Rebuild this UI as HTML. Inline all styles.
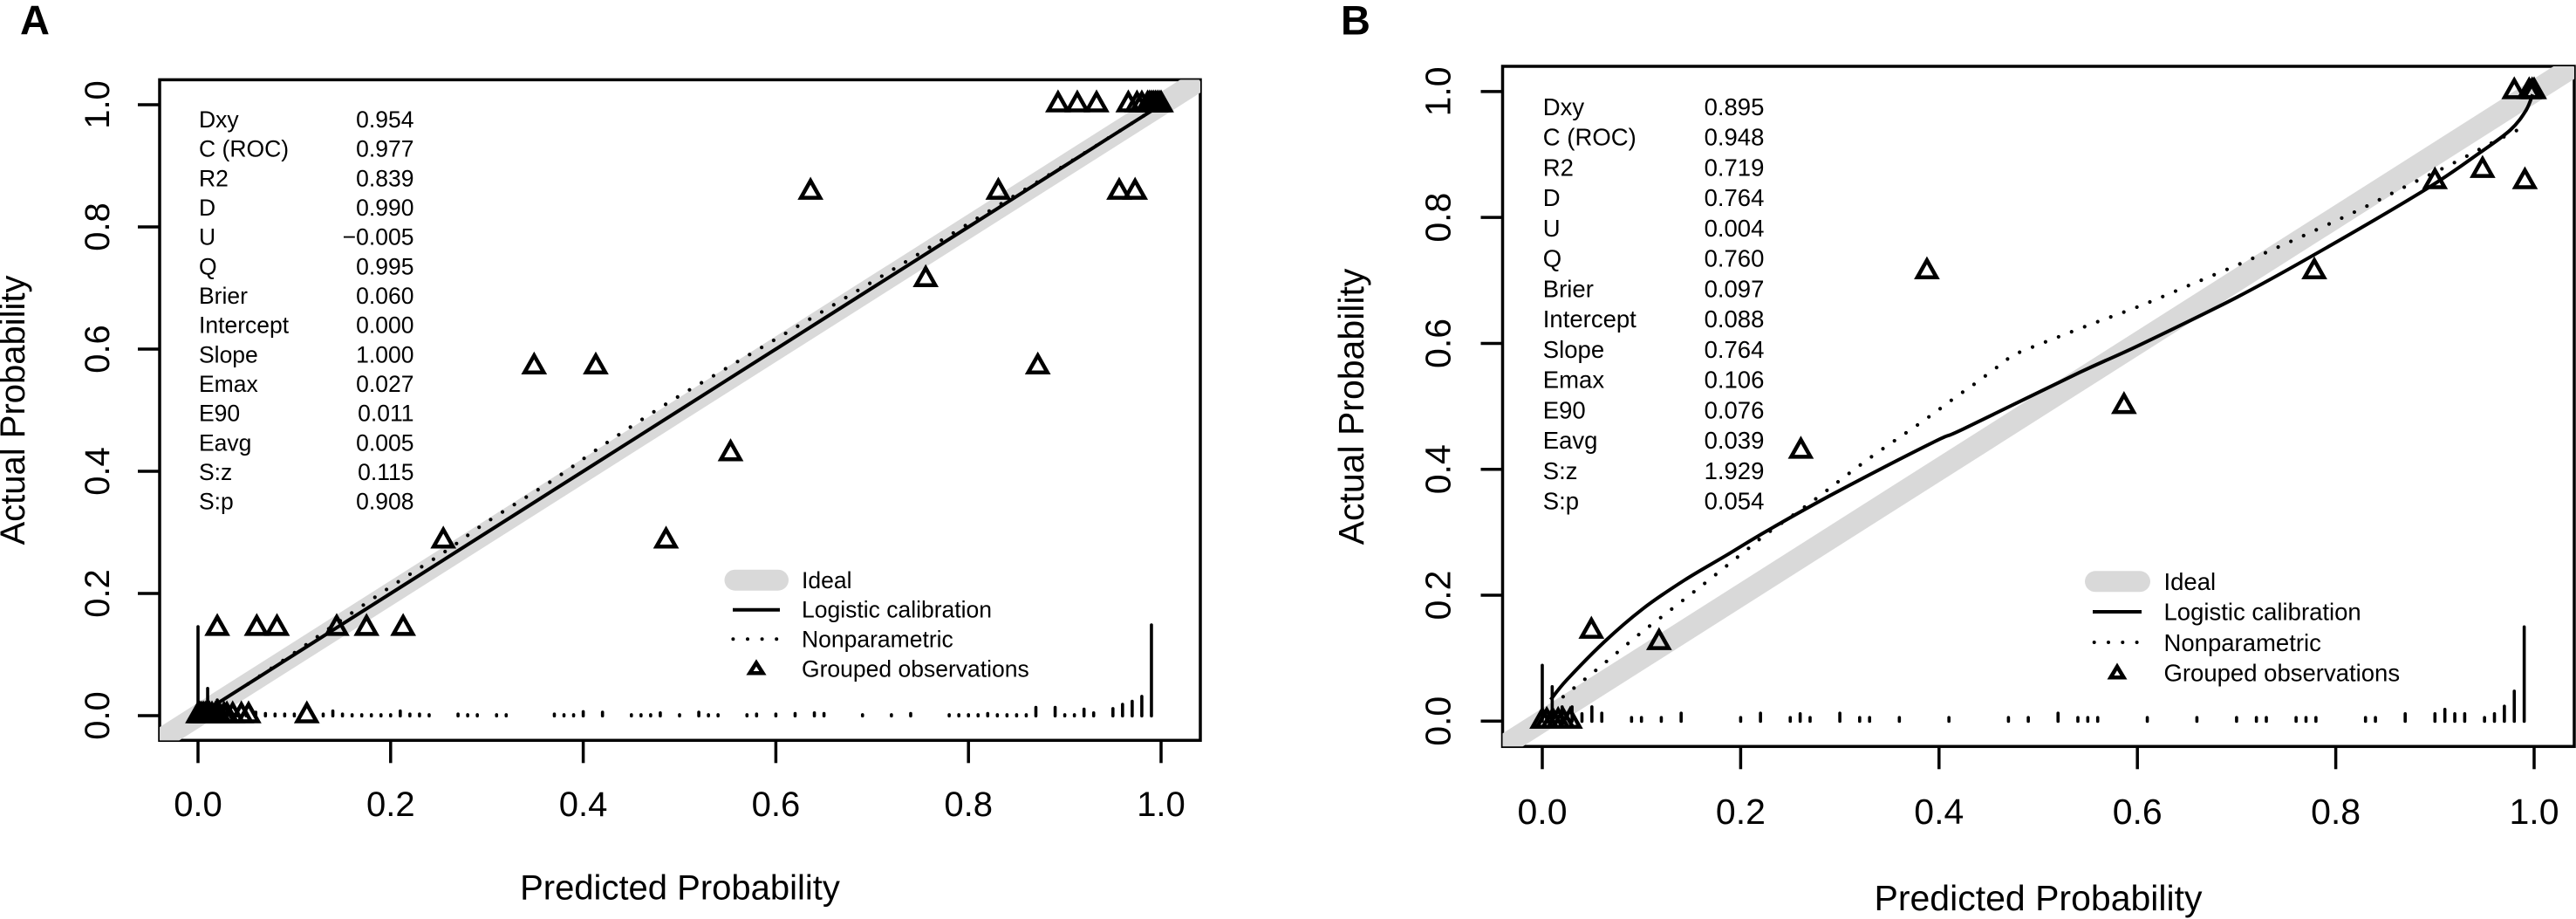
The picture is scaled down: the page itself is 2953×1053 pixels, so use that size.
<!DOCTYPE html>
<html lang="en">
<head>
<meta charset="utf-8">
<title>Calibration plots</title>
<style>
html,body{margin:0;padding:0;background:#fff;width:2953px;height:1053px;overflow:hidden}
svg{display:block;position:absolute;left:0;top:0}
text{font-family:"Liberation Sans",Arial,sans-serif;fill:#000}
.s-a{font-size:26.5px}
.s-b{font-size:27.5px}
.end{text-anchor:end}
.title-a{font-size:40px}
.title-b{font-size:41px}
.letter{font-size:47px;font-weight:bold}
</style>
</head>
<body>
<svg id="figure" xmlns="http://www.w3.org/2000/svg" width="2953" height="1053" viewBox="0 0 2953 1053">
<defs>
<clipPath id="clip-a"><rect x="183" y="91.4" width="1193" height="757"/></clipPath>
<clipPath id="clip-b"><rect x="1722.5" y="76" width="1228.5" height="779.3"/></clipPath>
</defs>
<rect width="2953" height="1053" fill="#fff"/>

<text class="letter" x="23" y="39.6">A</text>
<text class="letter" x="1537" y="39.6">B</text>

<g id="panel-a"></g>
<g id="panel-b"></g>

<text class="title-a" x="779.5" y="1030.5" text-anchor="middle">Predicted Probability</text>
<text class="title-a" transform="translate(28 470) rotate(-90)" text-anchor="middle">Actual Probability</text>
<text class="title-b" x="2336.5" y="1043" text-anchor="middle">Predicted Probability</text>
<text class="title-b" transform="translate(1563 466) rotate(-90)" text-anchor="middle">Actual Probability</text>

<g>
<text class="s-a" x="228" y="146">Dxy</text><text class="s-a end" x="474.5" y="146">0.954</text>
<text class="s-a" x="228" y="179.7">C (ROC)</text><text class="s-a end" x="474.5" y="179.7">0.977</text>
<text class="s-a" x="228" y="213.3">R2</text><text class="s-a end" x="474.5" y="213.3">0.839</text>
<text class="s-a" x="228" y="247">D</text><text class="s-a end" x="474.5" y="247">0.990</text>
<text class="s-a" x="228" y="280.7">U</text><text class="s-a end" x="474.5" y="280.7">−0.005</text>
<text class="s-a" x="228" y="314.3">Q</text><text class="s-a end" x="474.5" y="314.3">0.995</text>
<text class="s-a" x="228" y="348">Brier</text><text class="s-a end" x="474.5" y="348">0.060</text>
<text class="s-a" x="228" y="381.7">Intercept</text><text class="s-a end" x="474.5" y="381.7">0.000</text>
<text class="s-a" x="228" y="415.3">Slope</text><text class="s-a end" x="474.5" y="415.3">1.000</text>
<text class="s-a" x="228" y="449">Emax</text><text class="s-a end" x="474.5" y="449">0.027</text>
<text class="s-a" x="228" y="482.7">E90</text><text class="s-a end" x="474.5" y="482.7">0.011</text>
<text class="s-a" x="228" y="516.3">Eavg</text><text class="s-a end" x="474.5" y="516.3">0.005</text>
<text class="s-a" x="228" y="550">S:z</text><text class="s-a end" x="474.5" y="550">0.115</text>
<text class="s-a" x="228" y="583.7">S:p</text><text class="s-a end" x="474.5" y="583.7">0.908</text>
</g>

<g>
<text class="s-b" x="1768.8" y="131.8">Dxy</text><text class="s-b end" x="2022.4" y="131.8">0.895</text>
<text class="s-b" x="1768.8" y="166.6">C (ROC)</text><text class="s-b end" x="2022.4" y="166.6">0.948</text>
<text class="s-b" x="1768.8" y="201.3">R2</text><text class="s-b end" x="2022.4" y="201.3">0.719</text>
<text class="s-b" x="1768.8" y="236.1">D</text><text class="s-b end" x="2022.4" y="236.1">0.764</text>
<text class="s-b" x="1768.8" y="270.8">U</text><text class="s-b end" x="2022.4" y="270.8">0.004</text>
<text class="s-b" x="1768.8" y="305.6">Q</text><text class="s-b end" x="2022.4" y="305.6">0.760</text>
<text class="s-b" x="1768.8" y="340.4">Brier</text><text class="s-b end" x="2022.4" y="340.4">0.097</text>
<text class="s-b" x="1768.8" y="375.1">Intercept</text><text class="s-b end" x="2022.4" y="375.1">0.088</text>
<text class="s-b" x="1768.8" y="409.9">Slope</text><text class="s-b end" x="2022.4" y="409.9">0.764</text>
<text class="s-b" x="1768.8" y="444.6">Emax</text><text class="s-b end" x="2022.4" y="444.6">0.106</text>
<text class="s-b" x="1768.8" y="479.4">E90</text><text class="s-b end" x="2022.4" y="479.4">0.076</text>
<text class="s-b" x="1768.8" y="514.2">Eavg</text><text class="s-b end" x="2022.4" y="514.2">0.039</text>
<text class="s-b" x="1768.8" y="548.9">S:z</text><text class="s-b end" x="2022.4" y="548.9">1.929</text>
<text class="s-b" x="1768.8" y="583.7">S:p</text><text class="s-b end" x="2022.4" y="583.7">0.054</text>
</g>

<g>
<line x1="842.5" y1="664.7" x2="892" y2="664.7" stroke="#d9d9d9" stroke-width="24" stroke-linecap="round"/>
<text class="s-a" x="919" y="674">Ideal</text>
<line x1="840" y1="698.7" x2="894" y2="698.7" stroke="#000" stroke-width="4"/>
<text class="s-a" x="919" y="707.7">Logistic calibration</text>
<line x1="840.4" y1="732.3" x2="891" y2="732.3" stroke="#000" stroke-width="4" stroke-linecap="round" stroke-dasharray="0 16.6"/>
<text class="s-a" x="919" y="741.7">Nonparametric</text>
<polygon points="867,759.5 859.5,771.3 874.5,771.3" fill="none" stroke="#000" stroke-width="4.5"/>
<text class="s-a" x="919" y="775.3">Grouped observations</text>
</g>

<g>
<line x1="2402" y1="666.3" x2="2453" y2="666.3" stroke="#d9d9d9" stroke-width="24" stroke-linecap="round"/>
<text class="s-b" x="2480.5" y="676">Ideal</text>
<line x1="2399" y1="701" x2="2455" y2="701" stroke="#000" stroke-width="4"/>
<text class="s-b" x="2480.5" y="710.7">Logistic calibration</text>
<line x1="2400.7" y1="736" x2="2451" y2="736" stroke="#000" stroke-width="4" stroke-linecap="round" stroke-dasharray="0 16.3"/>
<text class="s-b" x="2480.5" y="746">Nonparametric</text>
<polygon points="2427,763.8 2419.5,776.3 2434.5,776.3" fill="none" stroke="#000" stroke-width="4.5"/>
<text class="s-b" x="2480.5" y="780.7">Grouped observations</text>
</g>
</svg>

<script>
// Shared axis data
const tickValues = [0, 0.2, 0.4, 0.6, 0.8, 1];
const tickLabels = ['0.0', '0.2', '0.4', '0.6', '0.8', '1.0'];
const idealX = [-0.04, 1.04];
const idealY = [-0.04, 1.04];

// Panel A
const logisticXA = [0.005, 0.1, 0.2, 0.3, 0.4, 0.5, 0.6, 0.7, 0.8, 0.9, 0.99];
const logisticYA = [0.005, 0.1, 0.2, 0.3, 0.4, 0.5, 0.6, 0.7, 0.8, 0.9, 0.99];
const nonparXA = [0.052, 0.103, 0.141, 0.201, 0.256, 0.3, 0.367, 0.42, 0.487, 0.55, 0.62, 0.7, 0.756, 0.832, 0.9, 0.96, 0.985];
const nonparYA = [0.052, 0.106, 0.148, 0.212, 0.268, 0.317, 0.384, 0.442, 0.511, 0.57, 0.635, 0.71, 0.763, 0.836, 0.901, 0.96, 0.985];
const groupXA = [0, 0.002, 0.004, 0.006, 0.008, 0.01, 0.012, 0.0145, 0.018, 0.022, 0.027, 0.03, 0.036, 0.045, 0.0525, 0.113,
  0.02, 0.061, 0.082, 0.144, 0.175, 0.213, 0.2547, 0.486, 0.553, 0.349, 0.413, 0.872, 0.7556, 0.636, 0.831, 0.9565, 0.973,
  0.893, 0.913, 0.933, 0.966, 0.975, 0.98, 0.986, 0.988, 0.99, 0.992, 0.994, 0.996, 0.998, 1];
const groupYA = [0, 0, 0, 0, 0, 0, 0, 0, 0, 0, 0, 0, 0, 0, 0, 0,
  0.143, 0.143, 0.143, 0.143, 0.143, 0.143, 0.286, 0.286, 0.429, 0.571, 0.571, 0.571, 0.714, 0.857, 0.857, 0.857, 0.857,
  1, 1, 1, 1, 1, 1, 1, 1, 1, 1, 1, 1, 1, 1];
const rugXA = [0, 0.01, 0.02, 0.03, 0.04, 0.05, 0.06, 0.07, 0.08, 0.09, 0.1, 0.13, 0.14, 0.15, 0.16, 0.17, 0.18, 0.19, 0.2, 0.21, 0.22, 0.23, 0.24,
  0.27, 0.28, 0.29, 0.31, 0.32, 0.37, 0.38, 0.39, 0.4, 0.42, 0.45, 0.46, 0.47, 0.48, 0.5, 0.52, 0.53, 0.54, 0.57, 0.58, 0.6, 0.62, 0.64, 0.65,
  0.69, 0.72, 0.74, 0.78, 0.79, 0.8, 0.81, 0.82, 0.83, 0.84, 0.85, 0.86, 0.87, 0.89, 0.9, 0.91, 0.92, 0.93, 0.95, 0.96, 0.97, 0.98, 0.99];
const rugFreqA = [0.151, 0.05, 0.031, 0.017, 0.013, 0.011, 0.011, 0.009, 0.008, 0.008, 0.008, 0.008, 0.013, 0.008, 0.007, 0.007, 0.007, 0.007, 0.007, 0.013, 0.008, 0.008, 0.007,
  0.008, 0.007, 0.007, 0.007, 0.007, 0.008, 0.007, 0.007, 0.012, 0.011, 0.007, 0.007, 0.007, 0.01, 0.007, 0.011, 0.007, 0.007, 0.007, 0.008, 0.008, 0.009, 0.01, 0.009,
  0.007, 0.007, 0.009, 0.007, 0.007, 0.007, 0.007, 0.009, 0.007, 0.007, 0.007, 0.007, 0.019, 0.019, 0.007, 0.007, 0.016, 0.01, 0.017, 0.024, 0.029, 0.037, 0.154];

// Panel B
const logisticXB = [0.0084, 0.025, 0.063, 0.101, 0.143, 0.185, 0.227, 0.2945, 0.3955, 0.424, 0.542, 0.6014, 0.7, 0.7785, 0.889, 0.9446, 0.976, 0.9918, 0.9985];
const logisticYB = [0.034, 0.066, 0.1266, 0.178, 0.2236, 0.2628, 0.3026, 0.362, 0.444, 0.4637, 0.554, 0.5967, 0.673, 0.741, 0.843, 0.9021, 0.9389, 0.97, 0.9955];
const nonparXB = [0.021, 0.0537, 0.0967, 0.1186, 0.162, 0.206, 0.227, 0.2734, 0.328, 0.385, 0.4187, 0.4298, 0.4633, 0.475, 0.5, 0.552, 0.6034, 0.6545, 0.706, 0.757, 0.82, 0.8695, 0.919, 0.956, 0.9938];
const nonparYB = [0.0388, 0.0804, 0.1367, 0.1635, 0.2167, 0.272, 0.2984, 0.3504, 0.4155, 0.4778, 0.517, 0.5287, 0.5678, 0.5813, 0.5977, 0.6296, 0.66, 0.6938, 0.728, 0.7636, 0.8094, 0.8485, 0.8866, 0.9174, 0.947];
const groupXB = [0, 0.0045, 0.0105, 0.016, 0.021, 0.028, 0.0495, 0.1177, 0.2607, 0.3878, 0.5865, 0.7784, 0.9, 0.948, 0.9907, 0.98, 0.995, 0.998, 1];
const groupYB = [0, 0, 0, 0, 0, 0, 0.143, 0.125, 0.429, 0.714, 0.5, 0.714, 0.857, 0.875, 0.857, 1, 1, 1, 1];
const rugXB = [0, 0.01, 0.02, 0.03, 0.04, 0.05, 0.06, 0.09, 0.1, 0.12, 0.14, 0.2, 0.22, 0.25, 0.26, 0.27, 0.3, 0.32, 0.33, 0.36, 0.41, 0.47, 0.49, 0.52, 0.54, 0.55, 0.56,
  0.61, 0.66, 0.7, 0.72, 0.73, 0.76, 0.77, 0.78, 0.83, 0.84, 0.87, 0.9, 0.91, 0.92, 0.93, 0.95, 0.96, 0.97, 0.98, 0.99];
const rugFreqB = [0.094, 0.06, 0.028, 0.028, 0.017, 0.028, 0.018, 0.011, 0.011, 0.011, 0.018, 0.011, 0.018, 0.011, 0.017, 0.011, 0.018, 0.011, 0.011, 0.011, 0.011, 0.011, 0.011, 0.018, 0.011, 0.011, 0.011,
  0.011, 0.011, 0.011, 0.011, 0.011, 0.011, 0.011, 0.011, 0.011, 0.011, 0.017, 0.017, 0.024, 0.017, 0.017, 0.011, 0.017, 0.029, 0.053, 0.155];

const svgNS = 'http://www.w3.org/2000/svg';

function make(parent, tag, attrs) {
  const el = document.createElementNS(svgNS, tag);
  for (const k in attrs) el.setAttribute(k, attrs[k]);
  parent.appendChild(el);
  return el;
}

function smoothPath(xs, ys, sx, sy) {
  const p = xs.map((v, i) => [sx(v), sy(ys[i])]);
  let d = 'M' + p[0][0].toFixed(1) + ' ' + p[0][1].toFixed(1);
  for (let i = 0; i < p.length - 1; i++) {
    const a = p[Math.max(i - 1, 0)], b = p[i], c = p[i + 1], e = p[Math.min(i + 2, p.length - 1)];
    const c1x = b[0] + (c[0] - a[0]) / 6, c1y = b[1] + (c[1] - a[1]) / 6;
    const c2x = c[0] - (e[0] - b[0]) / 6, c2y = c[1] - (e[1] - b[1]) / 6;
    d += ' C' + c1x.toFixed(1) + ' ' + c1y.toFixed(1) + ' ' + c2x.toFixed(1) + ' ' + c2y.toFixed(1) + ' ' + c[0].toFixed(1) + ' ' + c[1].toFixed(1);
  }
  return d;
}

function drawPanel(root, o) {
  const sx = o.sx, sy = o.sy;

  const box = make(root, 'rect', {x: o.left, y: o.top, width: o.right - o.left, height: o.bottom - o.top, fill: 'none', stroke: '#000', 'stroke-width': 3.5});
  
  

  const ideal = make(root, 'path', {d: smoothPath(idealX, idealY, sx, sy), fill: 'none', stroke: '#d9d9d9', 'stroke-width': 25, 'clip-path': 'url(#' + o.clip + ')'});
  
  

  tickValues.forEach((v, i) => {
    const xt = make(root, 'line', {x1: sx(v), y1: o.bottom, x2: sx(v), y2: o.bottom + 26, stroke: '#000', 'stroke-width': 3.5});
    
    

    const xl = make(root, 'text', {x: sx(v), y: o.xLabelY, 'text-anchor': 'middle', 'font-size': o.tickFont});
    xl.textContent = tickLabels[i];
    
    

    const yt = make(root, 'line', {x1: o.left - 25, y1: sy(v), x2: o.left, y2: sy(v), stroke: '#000', 'stroke-width': 3.5});
    
    

    const yl = make(root, 'text', {transform: 'translate(' + o.yLabelX + ' ' + sy(v) + ') rotate(-90)', 'text-anchor': 'middle', 'font-size': o.tickFont});
    yl.textContent = tickLabels[i];
    
    
  });

  const nonpar = make(root, 'path', {d: smoothPath(o.nonparX, o.nonparY, sx, sy), fill: 'none', stroke: '#000', 'stroke-width': 4.2, 'stroke-linecap': 'round', 'stroke-dasharray': '0 16'});
  
  

  const logistic = make(root, 'path', {d: smoothPath(o.logX, o.logY, sx, sy), fill: 'none', stroke: '#000', 'stroke-width': 4, 'stroke-linejoin': 'round'});
  
  

  o.rugX.forEach((v, i) => {
    const h = sy(0) - sy(o.rugF[i]);
    const base = sy(0) + 2;
    const r = make(root, 'line', {x1: sx(v), y1: base - 1.8, x2: sx(v), y2: base - h + 1.8, stroke: '#000', 'stroke-width': 3.6, 'stroke-linecap': 'round'});
    
    
  });

  o.groupX.forEach((v, i) => {
    const cx = sx(v), cy = sy(o.groupY[i]);
    const pts = cx + ',' + (cy - 13) + ' ' + (cx - 11) + ',' + (cy + 6.5) + ' ' + (cx + 11) + ',' + (cy + 6.5);
    const t = make(root, 'polygon', {points: pts, fill: 'none', stroke: '#000', 'stroke-width': 4.5});
    
    
  });
}

drawPanel(document.getElementById('panel-a'), {
  sx: v => 227 + 1104 * v,
  sy: v => 820 - 700 * v,
  left: 183, right: 1376, top: 91.4, bottom: 848.3,
  clip: 'clip-a', xLabelY: 935, yLabelX: 125, tickFont: 40,
  logX: logisticXA, logY: logisticYA,
  nonparX: nonparXA, nonparY: nonparYA,
  groupX: groupXA, groupY: groupYA,
  rugX: rugXA, rugF: rugFreqA
});

drawPanel(document.getElementById('panel-b'), {
  sx: v => 1768 + 1137 * v,
  sy: v => 826.3 - 721.4 * v,
  left: 1722.5, right: 2951, top: 76, bottom: 855.3,
  clip: 'clip-b', xLabelY: 944, yLabelX: 1662.6, tickFont: 41,
  logX: logisticXB, logY: logisticYB,
  nonparX: nonparXB, nonparY: nonparYB,
  groupX: groupXB, groupY: groupYB,
  rugX: rugXB, rugF: rugFreqB
});
</script>
</body>
</html>
